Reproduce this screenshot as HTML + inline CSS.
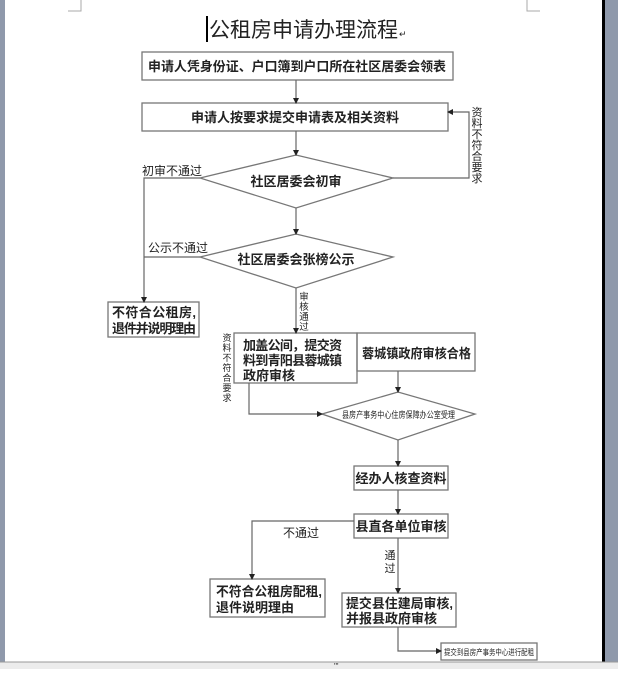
<!DOCTYPE html>
<html><head><meta charset="utf-8"><style>
html,body{margin:0;padding:0;background:#fff;}
svg text{font-family:"Liberation Sans","Noto Sans CJK SC",sans-serif;fill:#222;}
</style></head><body>
<svg width="618" height="669" viewBox="0 0 618 669" xmlns="http://www.w3.org/2000/svg">
<defs><marker id="a" markerWidth="6" markerHeight="6" refX="5" refY="3" orient="auto" markerUnits="userSpaceOnUse"><path d="M0,0 L6,3 L0,6 z" fill="#222"/></marker></defs>
<rect x="0" y="0" width="618" height="669" fill="#fff"/>
<rect x="0" y="0" width="5" height="662" fill="#8f99ab"/>
<rect x="602" y="0" width="3" height="662" fill="#000"/>
<rect x="605" y="0" width="13" height="662" fill="#8f99ab"/>
<rect x="0" y="662" width="618" height="7" fill="#ececec"/>
<line x1="0" y1="662" x2="618" y2="662" stroke="#999"/>
<text x="334" y="669" font-size="8" fill="#333">'''</text>
<path d="M68,11 H81 V0 M527,0 V11 H540" fill="none" stroke="#aaa"/>
<line x1="207" y1="16" x2="207" y2="42" stroke="#000" stroke-width="2"/>
<text x="209" y="37" font-size="21">公租房申请办理流程</text>
<text x="399" y="37" font-size="9" fill="#888">↵</text>
<g fill="none" stroke="#777" stroke-width="1.3">
<rect x="142" y="52" width="311" height="28"/>
<rect x="142" y="103" width="306" height="28"/>
<polygon points="200,178 296,155 393,178 296,208"/>
<polygon points="200,257 296,234 393,257 296,288"/>
<rect x="108" y="302" width="91" height="35"/>
<rect x="234" y="333" width="123" height="50"/>
<rect x="357" y="333" width="118" height="38"/>
<polygon points="322,414 398,392 475,414 398,440"/>
<rect x="354" y="466" width="94" height="24"/>
<rect x="354" y="514" width="94" height="24"/>
<rect x="210" y="579" width="115" height="38"/>
<rect x="342" y="593" width="114" height="34"/>
<rect x="441" y="643" width="96" height="17"/>
</g>
<g fill="none" stroke="#666" stroke-width="1.2" marker-end="url(#a)">
<path d="M296,80 V103"/>
<path d="M296,131 V155"/>
<path d="M393,178 H469 V112 H448"/>
<path d="M200,178 H144 V302"/>
<path d="M296,208 V234"/>
<path d="M296,288 V333"/>
<path d="M398,371 V392"/>
<path d="M249,383 V414 H322"/>
<path d="M398,440 V466"/>
<path d="M398,490 V514"/>
<path d="M354,521 H252 V579"/>
<path d="M398,538 V593"/>
<path d="M398,627 V651 H441"/>
</g>
<path d="M200,257 H144" stroke="#666" stroke-width="1.2"/>
<g font-weight="bold" font-size="13">
<text x="148" y="71" textLength="298" lengthAdjust="spacingAndGlyphs">申请人凭身份证、户口簿到户口所在社区居委会领表</text>
<text x="295" y="122" text-anchor="middle">申请人按要求提交申请表及相关资料</text>
<text x="296" y="186" text-anchor="middle">社区居委会初审</text>
<text x="296" y="264" text-anchor="middle">社区居委会张榜公示</text>
<text x="112" y="317" textLength="84">不符合公租房,</text>
<text x="112" y="333" textLength="84">退件并说明理由</text>
<text x="243" y="350" textLength="99">加盖公间，提交资</text>
<text x="243" y="365" textLength="99">料到青阳县蓉城镇</text>
<text x="243" y="380">政府审核</text>
<text x="362" y="358" textLength="109" lengthAdjust="spacingAndGlyphs">蓉城镇政府审核合格</text>
<text x="401" y="483" text-anchor="middle">经办人核查资料</text>
<text x="401" y="531" text-anchor="middle">县直各单位审核</text>
<text x="216" y="596" textLength="106" lengthAdjust="spacingAndGlyphs">不符合公租房配租,</text>
<text x="216" y="612">退件说明理由</text>
<text x="346" y="608" textLength="107" lengthAdjust="spacingAndGlyphs">提交县住建局审核,</text>
<text x="346" y="623">并报县政府审核</text>
</g>
<g font-size="12">
<text x="142" y="175">初审不通过</text>
<text x="148" y="252">公示不通过</text>
<text x="283" y="537">不通过</text>
</g>
<g font-size="11" text-anchor="middle">
<text x="477" y="116">资</text><text x="477" y="127">料</text><text x="477" y="138">不</text><text x="477" y="149">符</text><text x="477" y="160">合</text><text x="477" y="171">要</text><text x="477" y="182">求</text>
<text x="390" y="559">通</text><text x="390" y="572">过</text>
</g>
<g font-size="9.5" text-anchor="middle">
<text x="304" y="300">审</text><text x="304" y="310">核</text><text x="304" y="320">通</text><text x="304" y="330">过</text>
</g>
<g font-size="9" text-anchor="middle">
<text x="227" y="341">资</text><text x="227" y="351">料</text><text x="227" y="361">不</text><text x="227" y="371">符</text><text x="227" y="381">合</text><text x="227" y="391">要</text><text x="227" y="401">求</text>
</g>
<text x="342" y="418" font-size="9" textLength="113" lengthAdjust="spacingAndGlyphs">县房产事务中心住房保障办公室受理</text>
<text x="444" y="655" font-size="8" textLength="90" lengthAdjust="spacingAndGlyphs">提交到县房产事务中心进行配租</text>
</svg>
</body></html>
